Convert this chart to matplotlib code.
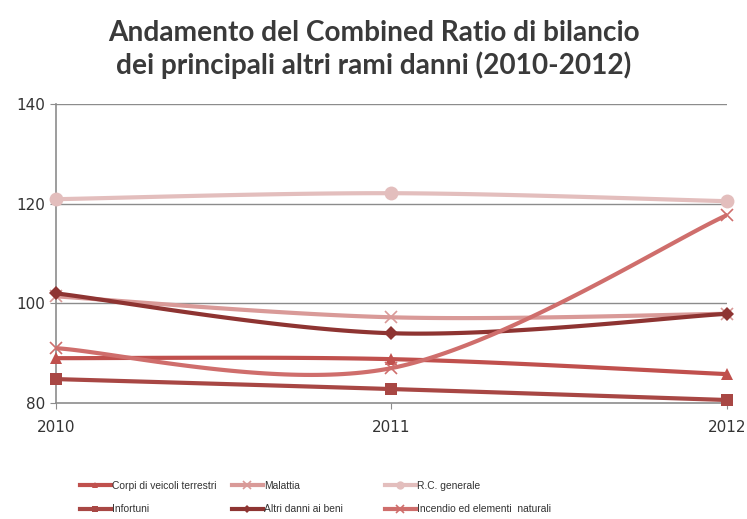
import numpy as np
import matplotlib
matplotlib.use("Agg")
import matplotlib.pyplot as plt
from matplotlib.lines import Line2D

years = [2010, 2011, 2012]
series_names = ["Corpi di veicoli terrestri", "Infortuni", "Malattia",
                "Altri danni ai beni", "R.C. generale", "Incendio ed elementi  naturali"]
corpi = [89.0, 88.8, 85.8]
infortuni = [84.8, 82.8, 80.6]
malattia = [101.4, 97.2, 97.9]
altri = [102.0, 94.0, 97.9]
rc_generale = [120.9, 122.1, 120.5]
incendio = [91.0, 87.0, 117.7]
yticks = [80, 100, 120, 140]

styles = [
    dict(color="#C0504D", marker="^", ms=8),
    dict(color="#A84744", marker="s", ms=8),
    dict(color="#D99A98", marker="x", ms=9),
    dict(color="#8E3432", marker="D", ms=7),
    dict(color="#E3BEBD", marker="o", ms=10),
    dict(color="#CF6E6C", marker="x", ms=9),
]
data = [corpi, infortuni, malattia, altri, rc_generale, incendio]


def smooth(xs, ys, n=60):
    P = np.column_stack([xs, ys]).astype(float)
    out = []
    m = len(P)
    for i in range(m - 1):
        p0 = P[i - 1] if i > 0 else P[i]
        p3 = P[i + 2] if i + 2 < m else P[i + 1]
        c1 = P[i] + (P[i + 1] - p0) / 6
        c2 = P[i + 1] - (p3 - P[i]) / 6
        t = np.linspace(0, 1, n)[:, None]
        seg = ((1 - t) ** 3) * P[i] + 3 * ((1 - t) ** 2) * t * c1 + 3 * (1 - t) * t ** 2 * c2 + t ** 3 * P[i + 1]
        out.append(seg if i == 0 else seg[1:])
    arr = np.vstack(out)
    return arr[:, 0], arr[:, 1]


fig = plt.figure(figsize=(7.47, 5.19), dpi=100)
ax = fig.add_axes([0.075, 0.2235, 0.898, 0.5761])

handles = []
for name, vals, st in zip(series_names, data, styles):
    sx, sy = smooth(years, vals)
    ax.plot(sx, sy, color=st["color"], lw=3, solid_capstyle="round", zorder=3)
    mew = 1.2 if st["marker"] == "x" else 0
    ax.plot(years, vals, linestyle="none", marker=st["marker"], ms=st["ms"],
            color=st["color"], mec=st["color"], mew=mew, zorder=4, clip_on=False)
    handles.append(Line2D([0], [0], color=st["color"], lw=3, marker=st["marker"],
                          ms=st["ms"] * 0.6, mew=mew, label=name))

ax.set_xlim(2010, 2012)
ax.set_ylim(80, 140)
ax.set_yticks(yticks)
ax.set_xticks(years)
ax.set_xticklabels([str(y) for y in years])
for yv in yticks[1:]:
    ax.axhline(yv, color="#8C8C8C", lw=1, zorder=1)
for s in ["top", "right"]:
    ax.spines[s].set_visible(False)
ax.spines["left"].set_color("#8C8C8C")
ax.spines["bottom"].set_color("#8C8C8C")
ax.spines["left"].set_linewidth(1.2)
ax.spines["bottom"].set_linewidth(1.2)
ax.tick_params(axis="both", colors="#8C8C8C", labelcolor="#333333", labelsize=11, length=4)
ax.tick_params(axis="x", pad=8)

fig.text(0.5, 0.904, "Andamento del Combined Ratio di bilancio\ndei principali altri rami danni (2010-2012)",
         ha="center", va="center", fontsize=20.2, fontweight="bold", color="#3A3A3A",
         family="Lato", linespacing=1.25)

col_x = [80, 232, 385]
for c in range(3):
    lg = fig.legend(handles=handles[2 * c:2 * c + 2], loc="upper left",
                    bbox_to_anchor=(col_x[c] / 747, 1 - 481 / 519), ncol=1,
                    frameon=False, handlelength=3.0, handletextpad=0.1,
                    labelspacing=1.3, borderaxespad=0, borderpad=0,
                    prop={"family": "Liberation Sans", "size": 7.4})
    for t in lg.get_texts():
        t.set_color("#333333")

fig.savefig("out.png", dpi=100)
